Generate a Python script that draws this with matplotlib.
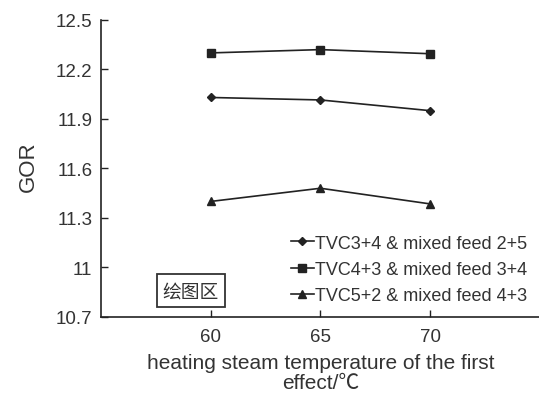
import matplotlib
matplotlib.use('Agg')
import matplotlib.pyplot as plt

plt.rcParams['font.family'] = ['Liberation Sans', 'Noto Sans CJK SC', 'DejaVu Sans']

temp = [60, 65, 70]
gor_a = [12.03, 12.015, 11.95]   # TVC3+4 & mixed feed 2+5
gor_b = [12.30, 12.32, 12.295]   # TVC4+3 & mixed feed 3+4
gor_c = [11.40, 11.48, 11.385]   # TVC5+2 & mixed feed 4+3
labels = ['TVC3+4 & mixed feed 2+5', 'TVC4+3 & mixed feed 3+4', 'TVC5+2 & mixed feed 4+3']
yticks = [10.7, 11, 11.3, 11.6, 11.9, 12.2, 12.5]
yticklabels = ['10.7', '11', '11.3', '11.6', '11.9', '12.2', '12.5']

TXT = '#333333'
fig = plt.figure(figsize=(5.39, 4.02), dpi=100)
ax = fig.add_axes([0.187, 0.209, 0.815, 0.739])

ax.plot(temp, gor_a, color='#222222', lw=1.2, marker='D', ms=4, label=labels[0])
ax.plot(temp, gor_b, color='#222222', lw=1.2, marker='s', ms=6, label=labels[1])
ax.plot(temp, gor_c, color='#222222', lw=1.2, marker='^', ms=5.5, label=labels[2])

ax.set_xlim(55, 75)
ax.set_ylim(10.7, 12.5)
ax.set_xticks(temp)
ax.set_yticks(yticks)
ax.set_yticklabels(yticklabels)
ax.tick_params(direction='in', length=5, width=1, colors='#222222', labelcolor=TXT,
               labelsize=13.5)
ax.tick_params(axis='x', pad=8)
ax.tick_params(axis='y', pad=6)
for s in ['top', 'right']:
    ax.spines[s].set_visible(False)
for s in ['left', 'bottom']:
    ax.spines[s].set_linewidth(1.2)
    ax.spines[s].set_color('#222222')

ax.set_ylabel('GOR', fontsize=16, color=TXT)
ax.yaxis.set_label_coords(-0.14, 0.51)
ax.set_xlabel('heating steam temperature of the first\neffect/\u2103', fontsize=15,
              color=TXT, labelpad=6, linespacing=1.05)

leg = ax.legend(loc='lower right', frameon=False, fontsize=13, handlelength=1.25,
                handletextpad=0.1, labelspacing=0.52, borderaxespad=0.3,
                labelcolor=TXT, bbox_to_anchor=(1.0, 0.0))

ax.text(59.1, 10.86, '绘图区', fontsize=13.5, color=TXT, ha='center', va='center',
        family=['Noto Sans CJK SC', 'DejaVu Sans'],
        bbox=dict(boxstyle='square,pad=0.3', fc='white', ec='#333333', lw=1.3))

fig.savefig('out.png', dpi=100)
